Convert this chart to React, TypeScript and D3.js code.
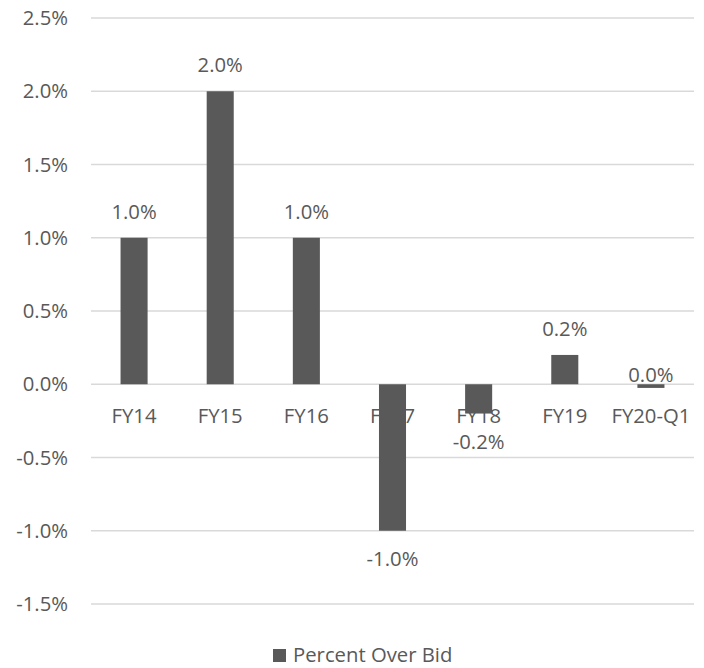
import React from "react";
import * as d3 from "d3";

const categories = ["FY14", "FY15", "FY16", "FY17", "FY18", "FY19", "FY20-Q1"];
const values = [0.01, 0.02, 0.01, -0.01, -0.002, 0.002, -0.00025];
const valueLabels = ["1.0%", "2.0%", "1.0%", "-1.0%", "-0.2%", "0.2%", "0.0%"];
const yTicks = [-0.015, -0.01, -0.005, 0, 0.005, 0.01, 0.015, 0.02, 0.025];
const seriesName = "Percent Over Bid";

const W = 704;
const H = 668;
const TEXT = "#595959";
const BAR = "#595959";
const GRID = "#d9d9d9";
const FONT = "'Open Sans', sans-serif";
const FS = 20.3;

export default function App() {
  const x = d3
    .scaleBand<string>()
    .domain(categories)
    .range([91, 694])
    .paddingInner(0.686)
    .paddingOuter(0.343);
  const y = d3.scaleLinear().domain([-0.015, 0.025]).range([604, 18]);
  const fmt = d3.format(".1%");
  const y0 = y(0);

  return (
    <svg
      width={W}
      height={H}
      style={{ position: "absolute", left: 0, top: 0, background: "#fff" }}
      fontFamily={FONT}
    >
      {yTicks.map((t) => (
        <g key={t}>
          <line x1={91} x2={694} y1={y(t)} y2={y(t)} stroke={GRID} strokeWidth={1.3} />
          <text x={68} y={y(t) + 7} textAnchor="end" fontSize={FS} fill={TEXT}>
            {fmt(t).replace("−", "-")}
          </text>
        </g>
      ))}
      {categories.map((c) => (
        <text
          key={c}
          x={(x(c) as number) + x.bandwidth() / 2}
          y={y0 + 39}
          textAnchor="middle"
          fontSize={FS}
          fill={TEXT}
        >
          {c}
        </text>
      ))}
      {categories.map((c, i) => {
        const v = values[i];
        const top = Math.min(y(v), y0);
        const h = Math.abs(y(v) - y0);
        return (
          <rect key={c} x={x(c)} y={top} width={x.bandwidth()} height={h} fill={BAR} />
        );
      })}
      {categories.map((c, i) => {
        const v = values[i];
        const h = Math.abs(y(v) - y0);
        let ly: number;
        if (v >= 0) ly = y(v) - 19;
        else if (h > 15) ly = y(v) + 35;
        else ly = y0 - 2;
        return (
          <text
            key={c}
            x={(x(c) as number) + x.bandwidth() / 2}
            y={ly}
            textAnchor="middle"
            fontSize={FS}
            fill={TEXT}
          >
            {valueLabels[i]}
          </text>
        );
      })}
      <g>
        <rect x={273} y={649} width={13} height={13} fill={BAR} />
        <text x={293} y={662} fontSize={FS} fill={TEXT}>
          {seriesName}
        </text>
      </g>
    </svg>
  );
}
